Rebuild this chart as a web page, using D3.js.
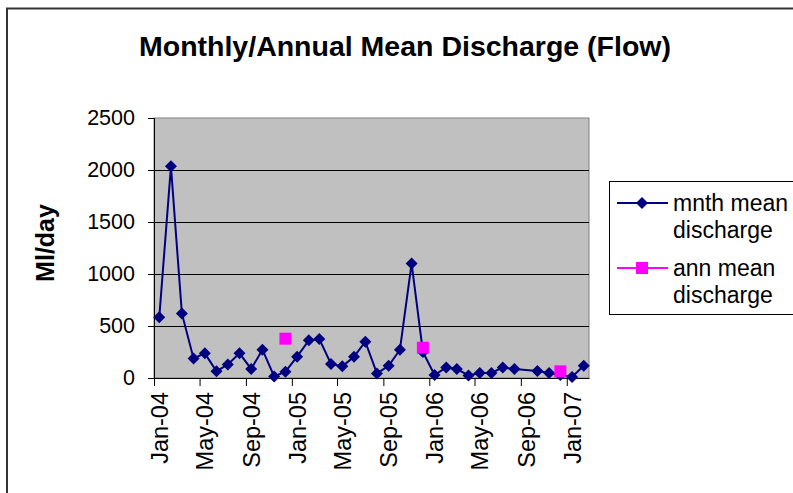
<!DOCTYPE html>
<html>
<head>
<meta charset="utf-8">
<script src="https://cdn.jsdelivr.net/npm/d3@7"></script>
<style>
  body { margin: 0; background: #fff; }
  text { font-family: "Liberation Sans", Arial, sans-serif; }
</style>
</head>
<body>
<div class="chart"></div>
<script>
// monthly mean discharge (Ml/day); Sep-06 has no value
const monthDates = [
  "2004-01-15","2004-02-15","2004-03-15","2004-04-15","2004-05-15","2004-06-15",
  "2004-07-15","2004-08-15","2004-09-15","2004-10-15","2004-11-15","2004-12-15",
  "2005-01-15","2005-02-15","2005-03-15","2005-04-15","2005-05-15","2005-06-15",
  "2005-07-15","2005-08-15","2005-09-15","2005-10-15","2005-11-15","2005-12-15",
  "2006-01-15","2006-02-15","2006-03-15","2006-04-15","2006-05-15","2006-06-15",
  "2006-07-15","2006-08-15","2006-10-15","2006-11-15","2006-12-15",
  "2007-01-15","2007-02-15"
];
const monthValues = [
  583, 2035, 621, 188, 237, 64, 131, 237, 87, 272, 15, 61,
  205, 362, 375, 135, 112, 205, 349, 44, 118, 272, 1102, 250,
  29, 102, 86, 25, 48, 48, 102, 86, 67, 48, 28,
  10, 118
];
const annDates = ["2004-12-15", "2005-12-15", "2006-12-15"];
const annValues = [378, 291, 64];
const yTicks = [0, 500, 1000, 1500, 2000, 2500];
const legendLabels = [["mnth mean", "discharge"], ["ann mean", "discharge"]];

const W = 793, H = 493;
const plot = {left: 154, right: 589, top: 118, bottom: 378};

const svg = d3.select(".chart").append("svg")
  .attr("width", W).attr("height", H);

// chart area border (cut off at right/bottom like the picture)
svg.append("rect")
  .attr("x", 7).attr("y", 8.5).attr("width", 820).attr("height", 520)
  .attr("fill", "#fff").attr("stroke", "#333").attr("stroke-width", 2);

const parse = d3.utcParse("%Y-%m-%d");
const monthly = monthDates.map((d, i) => ({date: parse(d), v: monthValues[i]}));
const annual = annDates.map((d, i) => ({date: parse(d), v: annValues[i]}));

const x = d3.scaleUtc()
  .domain([Date.UTC(2004, 0, 1), Date.UTC(2007, 2, 1)])
  .range([plot.left, plot.right]);
const y = d3.scaleLinear().domain([0, 2500]).range([plot.bottom, plot.top]);

// plot background
svg.append("rect")
  .attr("x", plot.left).attr("y", plot.top)
  .attr("width", plot.right - plot.left).attr("height", plot.bottom - plot.top)
  .attr("fill", "#c0c0c0").attr("stroke", "#808080").attr("stroke-width", 1);

// gridlines
svg.append("g")
  .selectAll("line")
  .data(yTicks.filter(t => t > 0 && t < 2500))
  .enter().append("line")
    .attr("x1", plot.left).attr("x2", plot.right)
    .attr("y1", d => Math.round(y(d)) + 0.5).attr("y2", d => Math.round(y(d)) + 0.5)
    .attr("stroke", "#000").attr("stroke-width", 1);

// y axis
const yAxis = svg.append("g")
  .attr("transform", `translate(${plot.left},0)`)
  .call(d3.axisLeft(y).tickValues(yTicks).tickFormat(d3.format("d"))
    .tickSize(6).tickPadding(13));
yAxis.select(".domain").attr("stroke", "#000");
yAxis.selectAll(".tick line").attr("stroke", "#000");
yAxis.selectAll(".tick text")
  .attr("font-size", 21.5).attr("fill", "#000")
  .style("font-family", "'Liberation Sans', Arial, sans-serif");

// x axis
const xAxis = svg.append("g")
  .attr("transform", `translate(0,${plot.bottom})`)
  .call(d3.axisBottom(x)
    .ticks(d3.utcMonth.every(4))
    .tickFormat(d3.utcFormat("%b-%y"))
    .tickSize(8).tickSizeOuter(0));
xAxis.select(".domain").attr("stroke", "#000");
xAxis.selectAll(".tick line").attr("stroke", "#000");
xAxis.selectAll(".tick text")
  .attr("font-size", 23.5).attr("fill", "#000")
  .style("font-family", "'Liberation Sans', Arial, sans-serif")
  .attr("text-anchor", "end")
  .attr("y", 0).attr("dy", "0.35em")
  .attr("transform", "translate(5,14) rotate(-90)");

// monthly line
const line = d3.line().x(d => x(d.date)).y(d => y(d.v));
svg.append("path")
  .datum(monthly)
  .attr("d", line)
  .attr("fill", "none")
  .attr("stroke", "#000080")
  .attr("stroke-width", 2);

const diamond = "M0,-6L6,0L0,6L-6,0Z";
svg.append("g")
  .selectAll("path")
  .data(monthly)
  .enter().append("path")
    .attr("d", diamond)
    .attr("transform", d => `translate(${x(d.date)},${y(d.v)})`)
    .attr("fill", "#000080");

// annual means (markers only)
svg.append("g")
  .selectAll("rect")
  .data(annual)
  .enter().append("rect")
    .attr("x", d => x(d.date) - 6).attr("y", d => y(d.v) - 6)
    .attr("width", 12).attr("height", 12)
    .attr("fill", "#ff00ff");

// title
svg.append("text")
  .attr("x", 405).attr("y", 56)
  .attr("text-anchor", "middle")
  .attr("font-size", 28.5).attr("font-weight", "bold")
  .text("Monthly/Annual Mean Discharge (Flow)");

// y title
svg.append("text")
  .attr("transform", "translate(45,243) rotate(-90)")
  .attr("text-anchor", "middle").attr("dy", "0.35em")
  .attr("font-size", 25).attr("font-weight", "bold")
  .text("Ml/day");

// legend
const lg = svg.append("g");
lg.append("rect")
  .attr("x", 609.5).attr("y", 181.5).attr("width", 220).attr("height", 133)
  .attr("fill", "#fff").attr("stroke", "#000").attr("stroke-width", 1);

const legendRows = [
  {y: 203, color: "#000080", mark: "diamond"},
  {y: 268, color: "#ff00ff", mark: "square"}
];
legendRows.forEach((r, i) => {
  lg.append("line")
    .attr("x1", 617).attr("x2", 668)
    .attr("y1", r.y).attr("y2", r.y)
    .attr("stroke", r.color).attr("stroke-width", 2);
  if (r.mark === "diamond") {
    lg.append("path").attr("d", diamond)
      .attr("transform", `translate(642,${r.y})`).attr("fill", r.color);
  } else {
    lg.append("rect").attr("x", 636).attr("y", r.y - 6)
      .attr("width", 12).attr("height", 12).attr("fill", r.color);
  }
  legendLabels[i].forEach((t, j) => {
    lg.append("text")
      .attr("x", 673).attr("y", r.y + j * 27)
      .attr("dy", "0.35em")
      .attr("font-size", 23)
      .text(t);
  });
});
</script>
</body>
</html>
